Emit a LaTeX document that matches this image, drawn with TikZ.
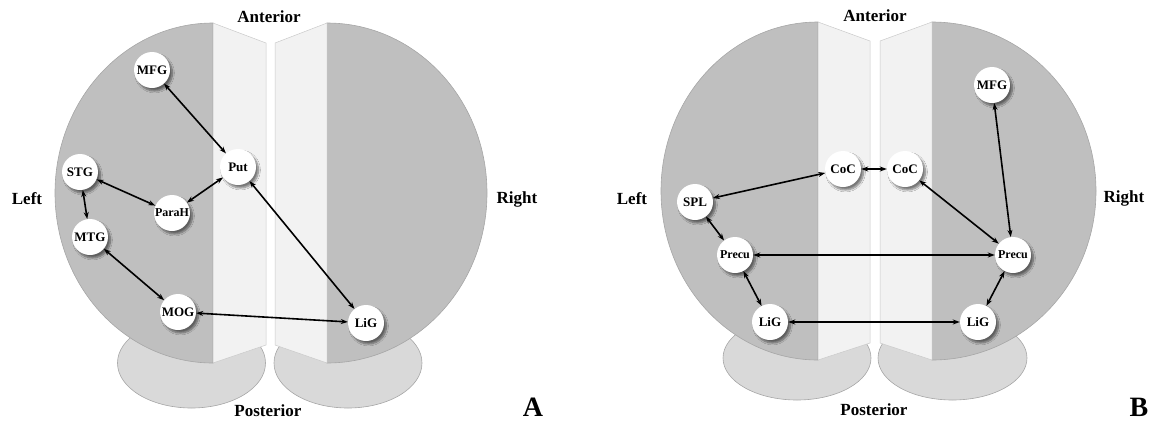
\documentclass[tikz,border=0pt]{standalone}
\usepackage{fontspec}
\setmainfont{Liberation Serif}
\usetikzlibrary{arrows.meta,shadows.blur}
\definecolor{hemi}{HTML}{BFBFBF}
\definecolor{lobe}{HTML}{D9D9D9}
\definecolor{strip}{HTML}{F2F2F2}
\definecolor{edgegrey}{HTML}{A6A6A6}
\tikzset{
  hemisphere/.style={fill=hemi, draw=edgegrey, line width=0.6pt},
  lobeshape/.style={fill=lobe, draw=edgegrey, line width=0.6pt},
  stripshape/.style={fill=strip, draw=edgegrey!60, line width=0.5pt},
  region/.style={circle, fill=white, minimum size=36pt, inner sep=0pt,
    font=\fontsize{13}{13}\selectfont\bfseries,
    blur shadow={shadow xshift=2.5pt, shadow yshift=-3pt, shadow blur steps=8, shadow opacity=50}},
  smalltext/.style={font=\fontsize{12}{12}\selectfont\bfseries},
  link/.style={{Stealth[length=7pt,width=5pt]}-{Stealth[length=7pt,width=5pt]}, line width=1.6pt, black},
  dirlabel/.style={font=\fontsize{17}{17}\selectfont\bfseries, anchor=base, inner sep=0pt},
  panellabel/.style={font=\fontsize{28}{28}\selectfont\bfseries, anchor=base, inner sep=0pt},
}
\begin{document}
\begin{tikzpicture}[x=1pt,y=-1pt]
\useasboundingbox (0,0) rectangle (1154,421);
% ---------------- Panel A ----------------
\filldraw[lobeshape] (191.5,363) ellipse [x radius=74, y radius=45];
\filldraw[lobeshape] (348,363) ellipse [x radius=74, y radius=45];
\filldraw[hemisphere] (213,23) arc[start angle=270, end angle=90, x radius=158, y radius=170] -- cycle;
\filldraw[hemisphere] (327,23) arc[start angle=270, end angle=450, x radius=160, y radius=170] -- cycle;
\filldraw[stripshape] (213,23) -- (266,43) -- (266,345) -- (213,363) -- cycle;
\filldraw[stripshape] (275,43) -- (327,23) -- (327,363) -- (275,345) -- cycle;

\node[dirlabel] (aAnt) at (269,22) {Anterior};
\node[dirlabel] (aPost) at (268,416) {Posterior};
\node[dirlabel] (aLeft) at (27,204) {Left};
\node[dirlabel] (aRight) at (517,203) {Right};
\node[panellabel] (aTag) at (533,416) {A};

\node[region] (aMFG) at (152,70) {MFG};
\node[region] (aPut) at (238,167) {Put};
\node[region] (aSTG) at (80,172) {STG};
\node[region,smalltext] (aParaH) at (172,213) {ParaH};
\node[region] (aMTG) at (90,237) {MTG};
\node[region] (aMOG) at (178,312) {MOG};
\node[region] (aLiG) at (366,323) {LiG};

\draw[link] (aMFG) -- (aPut);
\draw[link] (aSTG) -- (aParaH);
\draw[link] (aParaH) -- (aPut);
\draw[link] (aSTG) -- (aMTG);
\draw[link] (aMTG) -- (aMOG);
\draw[link] (aMOG) -- (aLiG);
\draw[link] (aPut) -- (aLiG);

% ---------------- Panel B ----------------
\filldraw[lobeshape] (797,358) ellipse [x radius=74, y radius=42];
\filldraw[lobeshape] (952.5,358) ellipse [x radius=74.5, y radius=42];
\filldraw[hemisphere] (818,22) arc[start angle=270, end angle=90, x radius=157, y radius=169] -- cycle;
\filldraw[hemisphere] (932,22) arc[start angle=270, end angle=450, x radius=164, y radius=169] -- cycle;
\filldraw[stripshape] (818,22) -- (870,41) -- (870,343) -- (818,360) -- cycle;
\filldraw[stripshape] (880,41) -- (932,22) -- (932,360) -- (880,343) -- cycle;

\node[dirlabel] (bAnt) at (875,21) {Anterior};
\node[dirlabel] (bPost) at (874,415) {Posterior};
\node[dirlabel] (bLeft) at (632,204) {Left};
\node[dirlabel] (bRight) at (1124,202) {Right};
\node[panellabel] (bTag) at (1139,416) {B};

\node[region] (bCoCL) at (843,169) {CoC};
\node[region] (bCoCR) at (905,169) {CoC};
\node[region] (bMFG) at (992,85) {MFG};
\node[region] (bSPL) at (695,202) {SPL};
\node[region,smalltext] (bPrecuL) at (735,255) {Precu};
\node[region,smalltext] (bPrecuR) at (1013,255) {Precu};
\node[region] (bLiGL) at (770,322) {LiG};
\node[region] (bLiGR) at (978,322) {LiG};

\draw[link] (bCoCL) -- (bSPL);
\draw[link] (bCoCL) -- (bCoCR);
\draw[link] (bCoCR) -- (bPrecuR);
\draw[link] (bMFG) -- (bPrecuR);
\draw[link] (bSPL) -- (bPrecuL);
\draw[link] (bPrecuL) -- (bPrecuR);
\draw[link] (bPrecuL) -- (bLiGL);
\draw[link] (bLiGL) -- (bLiGR);
\draw[link] (bPrecuR) -- (bLiGR);
\end{tikzpicture}
\end{document}
